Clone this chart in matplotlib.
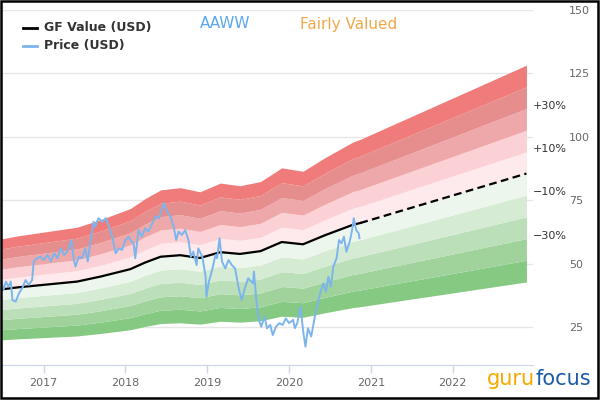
#!/usr/bin/env python
#*******************************************************************************
#plot.py
#*******************************************************************************

#Purpose:
#Recreate the GF Value chart of AAWW: price history against the GF Value line
#and its +/-10% to +/-50% valuation bands, saved as out.png.


#*******************************************************************************
#Import Python modules
#*******************************************************************************
import numpy
import matplotlib
matplotlib.use('Agg')
import matplotlib.pyplot as plt
import matplotlib.patches as patches


#*******************************************************************************
#Data (decimal years and USD values)
#*******************************************************************************
ZV_gfv_yrs=[2016.48,2016.68,2017.41,2017.70,2018.06,2018.24,2018.43,2018.67,   \
            2018.91,2019.16,2019.40,2019.65,2019.91,2020.17,2020.44,2020.78,   \
            2020.87]
ZV_gfv_val=[39.8,40.6,42.9,44.9,47.8,50.4,52.7,53.3,                           \
            52.2,54.5,53.8,54.9,58.5,57.6,61.2,65.3,                           \
            66.0]

ZV_est_yrs=[2020.87,2022.90]
ZV_est_val=[66.0,85.5]

ZV_prc_yrs=[2016.48,2016.51,2016.54,2016.57,2016.60,2016.62,2016.66,2016.70,   \
            2016.74,2016.78,2016.82,2016.86,2016.88,2016.92,2016.96,2017.00,   \
            2017.05,2017.09,2017.13,2017.17,2017.21,2017.25,2017.29,2017.34,   \
            2017.37,2017.39,2017.43,2017.47,2017.51,2017.54,2017.57,2017.61,   \
            2017.63,2017.67,2017.72,2017.76,2017.80,2017.84,2017.88,2017.92,   \
            2017.96,2018.00,2018.04,2018.06,2018.10,2018.12,2018.16,2018.20,   \
            2018.24,2018.28,2018.33,2018.37,2018.41,2018.45,2018.47,2018.51,   \
            2018.55,2018.59,2018.62,2018.65,2018.69,2018.73,2018.77,2018.80,   \
            2018.83,2018.87,2018.89,2018.94,2018.98,2018.99,2019.02,2019.06,   \
            2019.10,2019.12,2019.15,2019.18,2019.22,2019.26,2019.30,2019.34,   \
            2019.38,2019.42,2019.46,2019.50,2019.52,2019.56,2019.57,2019.60,   \
            2019.63,2019.66,2019.70,2019.73,2019.77,2019.80,2019.84,2019.88,   \
            2019.92,2019.96,2020.00,2020.05,2020.07,2020.10,2020.14,2020.17,   \
            2020.20,2020.23,2020.27,2020.30,2020.33,2020.36,2020.39,2020.42,   \
            2020.45,2020.48,2020.51,2020.54,2020.58,2020.61,2020.64,2020.67,   \
            2020.70,2020.74,2020.77,2020.79,2020.82,2020.85,2020.86]
ZV_prc_val=[43.8,39.6,42.9,40.9,42.9,35.6,35.0,38.3,                           \
            40.3,43.5,41.6,43.5,50.8,52.1,52.7,51.4,                           \
            53.4,50.8,54.1,52.1,56.0,53.4,54.7,59.3,                           \
            51.4,48.8,52.7,52.1,56.0,50.8,58.0,66.5,                           \
            64.5,67.9,66.5,67.9,64.5,60.6,54.1,56.0,                           \
            55.4,59.3,60.6,59.3,58.0,52.1,63.2,60.6,                           \
            63.9,62.6,65.9,68.5,67.9,71.8,73.8,70.5,                           \
            68.5,64.5,59.3,62.6,61.3,63.2,59.3,52.7,                           \
            54.7,49.4,56.0,52.7,44.8,37.0,42.9,47.5,                           \
            53.4,52.1,60.0,50.8,48.1,51.4,49.4,48.1,                           \
            40.9,35.6,40.3,44.2,43.5,42.2,46.8,35.6,                           \
            27.8,25.1,29.1,24.5,25.8,21.8,25.1,26.5,                           \
            25.8,28.4,26.5,27.8,24.5,26.5,33.0,23.8,                           \
            17.2,24.5,21.2,26.5,31.7,35.6,39.6,42.2,                           \
            38.9,44.8,40.9,48.8,52.1,59.3,58.0,60.6,                           \
            54.7,58.6,63.2,67.9,63.2,61.9,60.0]

ZV_bnd_pct=[-0.5,-0.4,-0.3,-0.2,-0.1,0.0,0.1,0.2,0.3,0.4,0.5]
YV_bnd_col=['#86c983','#a0d39c','#bbdfb8','#d5ebd3','#edf6ec',                 \
            '#feeaec','#fbd1d5','#efa8aa','#e68d8d','#f07b7b']
YV_lbl_txt=['+30%','+10%','\u221210%','\u221230%']
ZV_lbl_pct=[0.3,0.1,-0.1,-0.3]

ZV_ytk=[25,50,75,100,125,150]
IV_xtk=[2017,2018,2019,2020,2021,2022]


#*******************************************************************************
#Figure and axes
#*******************************************************************************
fig=plt.figure(figsize=(6,4.2),dpi=100)
ax=fig.add_axes([1/600,55/420,532/600,355/420])

ax.set_xlim(2016.48,2022.98)
ax.set_ylim(10,150)


#*******************************************************************************
#Valuation bands
#*******************************************************************************
ZV_all_yrs=numpy.array(ZV_gfv_yrs+ZV_est_yrs[1:])
ZV_all_val=numpy.array(ZV_gfv_val+ZV_est_val[1:])

for JS_bnd in range(len(YV_bnd_col)):
     ax.fill_between(ZV_all_yrs,ZV_all_val*(1+ZV_bnd_pct[JS_bnd]),             \
                     ZV_all_val*(1+ZV_bnd_pct[JS_bnd+1]),                      \
                     color=YV_bnd_col[JS_bnd],linewidth=0,zorder=1)

for JS_lbl in range(len(YV_lbl_txt)):
     ax.annotate(YV_lbl_txt[JS_lbl],                                           \
                 xy=(2022.98,ZV_est_val[-1]*(1+ZV_lbl_pct[JS_lbl])),           \
                 xytext=(0,2),textcoords='offset points',                      \
                 ha='left',va='center',fontsize=8,color='#333333',             \
                 annotation_clip=False)


#*******************************************************************************
#GF Value and price lines
#*******************************************************************************
ax.plot(ZV_gfv_yrs,ZV_gfv_val,color='black',linewidth=1.6,zorder=4)
ax.plot(ZV_est_yrs,ZV_est_val,color='black',linewidth=1.6,                     \
        linestyle=(0,(3.5,2)),zorder=4)
ax.plot(ZV_prc_yrs,ZV_prc_val,color='#7cb5ec',linewidth=1.4,zorder=5)


#*******************************************************************************
#Axes styling
#*******************************************************************************
ax.set_yticks(ZV_ytk)
ax.yaxis.tick_right()
ax.tick_params(axis='y',length=0,pad=26,labelsize=8,labelcolor='#666666')
for ZS_ytk in ZV_ytk:
     ax.axhline(ZS_ytk,color='#e6e6e6',linewidth=1,zorder=0)

ax.set_xticks(IV_xtk)
ax.set_xticklabels([str(IS_x) for IS_x in IV_xtk])
ax.tick_params(axis='x',length=6,width=1,color='#ccd6eb',pad=3,labelsize=8,    \
               labelcolor='#666666')

for YS_spn in ['top','right','left']:
     ax.spines[YS_spn].set_visible(False)
ax.spines['bottom'].set_color('#ccd6eb')
ax.patch.set_alpha(0)


#*******************************************************************************
#Legend, titles and logo
#*******************************************************************************
fig.add_artist(plt.Line2D([23/600,37/600],[1-28/420,1-28/420],color='black',   \
                          linewidth=2))
fig.add_artist(plt.Line2D([23/600,37/600],[1-46/420,1-46/420],               \
                          color='#7cb5ec',linewidth=2))
fig.text(44/600,1-28/420,'GF Value (USD)',fontsize=9,fontweight='bold',        \
         va='center',color='#333333')
fig.text(44/600,1-46/420,'Price (USD)',fontsize=9,fontweight='bold',           \
         va='center',color='#333333')

fig.text(200/600,1-24/420,'AAWW',fontsize=11,va='center',color='#5aa8f2')
fig.text(300/600,1-24/420,'Fairly Valued',fontsize=11,va='center',             \
         color='#f0a848')

#Logo: "guru" then "focus" placed right after it
YV_logo_fam=['Liberation Sans Narrow','DejaVu Sans']
txt_gur=fig.text(487/600,1-379/420,'guru',fontsize=15,va='center',             \
                 color='#f5a800',family=YV_logo_fam)
rdr=fig.canvas.get_renderer()
ZS_gur_end=txt_gur.get_window_extent(rdr).x1/600
fig.text(ZS_gur_end,1-379/420,'focus',fontsize=15,va='center',                 \
         color='#1c5ba8',family=YV_logo_fam)

fig.add_artist(patches.Rectangle((1/600,22/420),597/600,397/420,               \
                                 transform=fig.transFigure,fill=False,         \
                                 edgecolor='black',linewidth=1.8))


#*******************************************************************************
#Save
#*******************************************************************************
fig.savefig('out.png',dpi=100)


#*******************************************************************************
#End
#*******************************************************************************
